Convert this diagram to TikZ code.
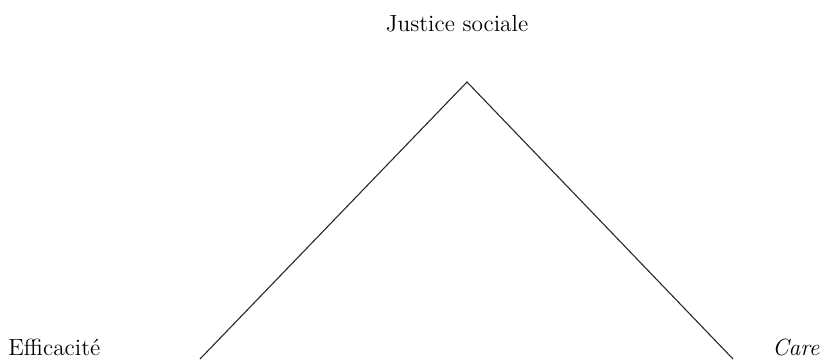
\documentclass[tikz,border=0pt]{standalone}
\usepackage{xcolor}
\usepackage{tikz}
\usetikzlibrary{positioning}
\definecolor{pllinegrey}{RGB}{40,40,40}
\tikzset{
  pole/.style={font=\fontsize{11.7}{14}\selectfont, anchor=base, inner sep=0pt},
  edgeline/.style={draw=pllinegrey, line width=0.55pt},
}
\begin{document}
\begin{tikzpicture}[x=0.5pt, y=-0.5pt]
\useasboundingbox (0,0) rectangle (823,359);
% sommets
\coordinate (apex) at (467,82);
\coordinate (leftend) at (200,359);
\coordinate (rightend) at (733,359);
% poles
\node[pole] (justice) at (457,31) {Justice sociale};
\node[pole, anchor=base west] (eff) at (8,355) {Efficacit\'e};
\node[pole, anchor=base east] (care) at (820,355) {\textit{Care}};
% cotes
\draw[edgeline] (leftend) -- (apex) -- (rightend);
\end{tikzpicture}
\end{document}
